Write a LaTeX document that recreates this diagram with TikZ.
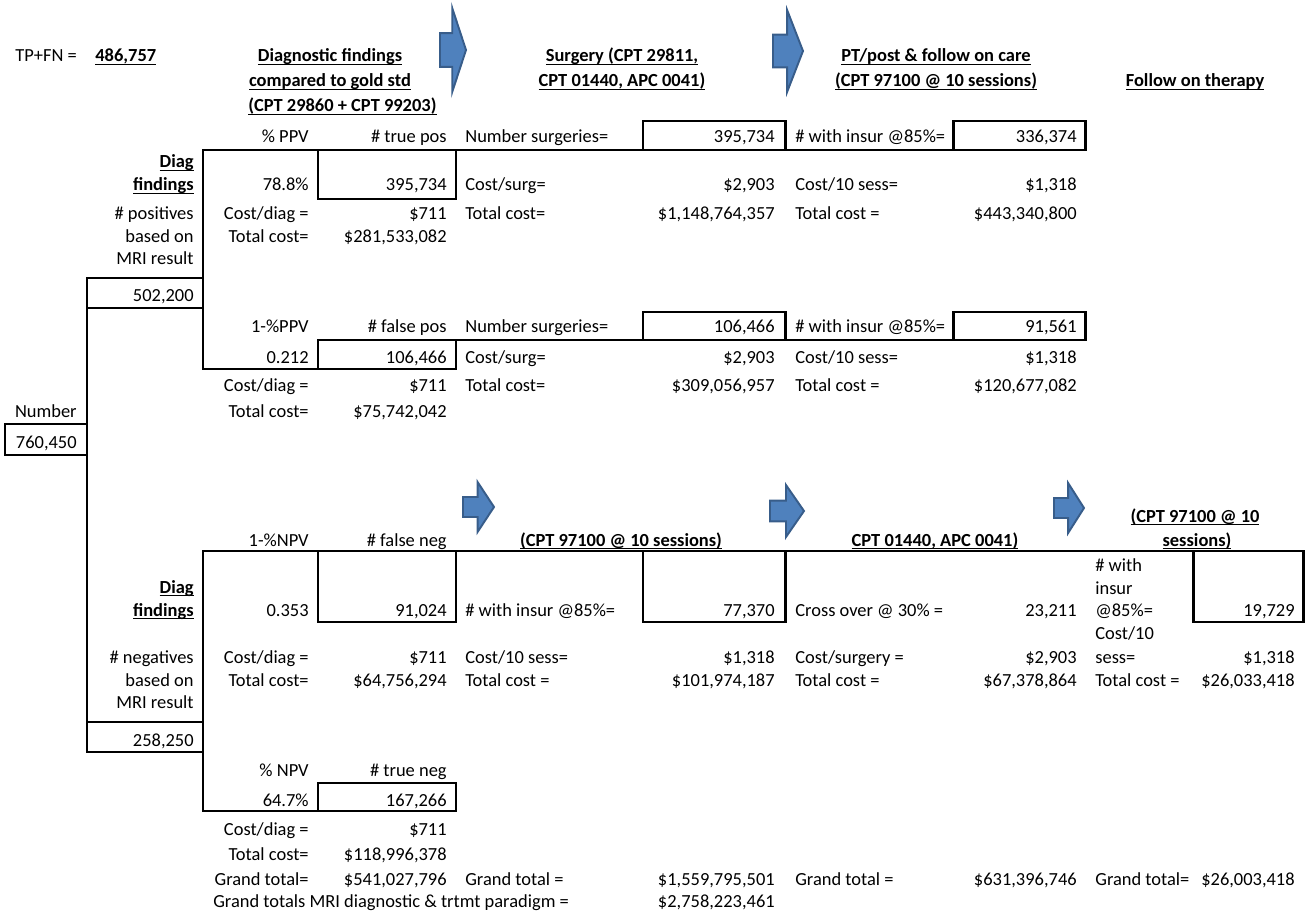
\documentclass[tikz,border=0pt]{standalone}
\usepackage{fontspec}
\setmainfont{Carlito}
\usepackage{tikz}
\usetikzlibrary{arrows.meta}
\definecolor{flowfill}{HTML}{4F81BD}
\definecolor{flowline}{HTML}{385D8A}
\tikzset{
  cell/.style={inner sep=0pt, font=\fontsize{10.5}{12.6}\selectfont},
  lcell/.style={cell, anchor=base west},
  rcell/.style={cell, anchor=base east},
  ccell/.style={cell, anchor=base},
  frame/.style={line width=1.7pt, line cap=rect},
  flow/.style={fill=flowfill, draw=flowline, line width=1.1pt, line join=miter}
}
\newcommand{\undl}[1]{\setbox0\hbox{\textbf{#1}}\rlap{\rule[-1.6pt]{\wd0}{0.7pt}}\box0}

\begin{document}
\begin{tikzpicture}[x=0.02cm,y=-0.02cm]
  \useasboundingbox (0,0) rectangle (1309,912);
  % Draw block arrows between stages
  \foreach \l/\t/\w/\h in {440/8/26/84, 773/10/30/82, 463/482/31/50, 770/485/34/52, 1054/483/30/50}
    \draw[flow] (\l,\t+0.3*\h) -- (\l+0.47*\w,\t+0.3*\h) -- (\l+0.47*\w,\t) -- (\l+\w,\t+0.5*\h)
      -- (\l+0.47*\w,\t+\h) -- (\l+0.47*\w,\t+0.7*\h) -- (\l,\t+0.7*\h) -- cycle;
  % Draw headers
  \node[lcell] (tpfn) at (15,62) {TP+FN =};
  \node[lcell] (tpfnval) at (95,62) {\undl{486,757}};
  \node[ccell] (diaghd1) at (330,62) {\undl{Diagnostic findings}};
  \node[ccell] (diaghd2) at (330,87) {\undl{compared to gold std}};
  \node[lcell] (diaghd3) at (248,112) {\undl{(CPT 29860 + CPT 99203)}};
  \node[ccell] (surghd1) at (622,62) {\undl{Surgery (CPT 29811,}};
  \node[ccell] (surghd2) at (622,87) {\undl{CPT 01440, APC 0041)}};
  \node[ccell] (pthd1) at (936,62) {\undl{PT/post \& follow on care}};
  \node[ccell] (pthd2) at (936,87) {\undl{(CPT 97100 @ 10 sessions)}};
  \node[ccell] (followhd) at (1195,87) {\undl{Follow on therapy}};
  \node[ccell] (ptlowhd) at (621,546) {\undl{(CPT 97100 @ 10 sessions)}};
  \node[ccell] (surglowhd) at (935,546) {\undl{CPT 01440, APC 0041)}};
  \node[ccell] (followlowhd1) at (1195,522) {\undl{(CPT 97100 @ 10}};
  \node[ccell] (followlowhd2) at (1197,546) {\undl{sessions)}};
  % Draw tree lines and value boxes
  \draw[frame] (5,424) rectangle (87,455);
  \draw[frame] (87,278) -- (87,752);
  \draw[frame] (87,278) rectangle (203,308);
  \draw[frame] (87,722) rectangle (203,752);
  \draw[frame] (456,369) -- (203,369) -- (203,150) -- (1085,150);
  \draw[frame] (318,150) rectangle (456,199);
  \draw[frame] (643,121) rectangle (785,150);
  \draw[frame] (953,121) rectangle (1085,150);
  \draw[frame] (318,340) rectangle (456,369);
  \draw[frame] (456,340) -- (1085,340);
  \draw[frame] (643,312) rectangle (785,340);
  \draw[frame] (953,312) rectangle (1085,340);
  \draw[frame] (456,811) -- (203,811) -- (203,551) -- (1303,551);
  \draw[frame] (318,551) rectangle (456,622);
  \draw[frame] (643,551) rectangle (785,622);
  \draw[frame] (1193,551) rectangle (1303,622);
  \draw[frame] (318,783) rectangle (456,811);
  % Root and branch labels
  \node[rcell] (numlbl) at (77,418) {Number};
  \node[rcell] (numval) at (77,448) {760,450};
  \node[rcell] (posdiag1) at (194,168) {\undl{Diag}};
  \node[rcell] (posdiag2) at (194,191) {\undl{findings}};
  \node[rcell] (negdiag1) at (194,593) {\undl{Diag}};
  \node[rcell] (negdiag2) at (194,616) {\undl{findings}};
  \foreach \y/\txt [count=\i] in {220/{\# positives}, 243/{based on}, 265/{MRI result}, 302/{502,200},
      663/{\# negatives}, 686/{based on}, 708/{MRI result}, 746/{258,250}}
    \node[rcell] (cola-\i) at (194,\y) {\txt};
  % Diagnostic findings columns
  \foreach \y/\lab/\val [count=\i] in {143/{\% PPV}/{\# true pos}, 191/{78.8\%}/{395,734},
      220/{Cost/diag =}/{\$711}, 243/{Total cost=}/{\$281,533,082},
      333/{1-\%PPV}/{\# false pos}, 363/{0.212}/{106,466},
      392/{Cost/diag =}/{\$711}, 418/{Total cost=}/{\$75,742,042},
      546/{1-\%NPV}/{\# false neg}, 616/{0.353}/{91,024},
      663/{Cost/diag =}/{\$711}, 686/{Total cost=}/{\$64,756,294},
      776/{\% NPV}/{\# true neg}, 806/{64.7\%}/{167,266},
      835/{Cost/diag =}/{\$711}, 860/{Total cost=}/{\$118,996,378},
      885/{Grand total=}/{\$541,027,796}} {
    \node[rcell] (colb-\i) at (309,\y) {\lab};
    \node[rcell] (colc-\i) at (447,\y) {\val}; }
  % Surgery / therapy columns
  \foreach \y/\lab/\val [count=\i] in {143/{Number surgeries=}/{395,734}, 191/{Cost/surg=}/{\$2,903},
      220/{Total cost=}/{\$1,148,764,357}, 333/{Number surgeries=}/{106,466},
      363/{Cost/surg=}/{\$2,903}, 392/{Total cost=}/{\$309,056,957},
      616/{\# with insur @85\%=}/{77,370}, 663/{Cost/10 sess=}/{\$1,318},
      686/{Total cost =}/{\$101,974,187}, 885/{Grand total =}/{\$1,559,795,501}} {
    \node[lcell] (cold-\i) at (465,\y) {\lab};
    \node[rcell] (cole-\i) at (775,\y) {\val}; }
  \foreach \y/\lab/\val [count=\i] in {143/{\# with insur @85\%=}/{336,374}, 191/{Cost/10 sess=}/{\$1,318},
      220/{Total cost =}/{\$443,340,800}, 333/{\# with insur @85\%=}/{91,561},
      363/{Cost/10 sess=}/{\$1,318}, 392/{Total cost =}/{\$120,677,082},
      616/{Cross over @ 30\% =}/{23,211}, 663/{Cost/surgery =}/{\$2,903},
      686/{Total cost =}/{\$67,378,864}, 885/{Grand total =}/{\$631,396,746}} {
    \node[lcell] (colf-\i) at (795,\y) {\lab};
    \node[rcell] (colg-\i) at (1077,\y) {\val}; }
  % Follow on therapy column
  \foreach \y/\lab [count=\i] in {571/{\# with}, 594/{insur}, 616/{@85\%=}, 639/{Cost/10}, 663/{sess=},
      686/{Total cost =}, 885/{Grand total=}}
    \node[lcell] (colh-\i) at (1095,\y) {\lab};
  \foreach \y/\val [count=\i] in {616/{19,729}, 663/{\$1,318}, 686/{\$26,033,418}, 885/{\$26,003,418}}
    \node[rcell] (coli-\i) at (1295,\y) {\val};
  % Grand totals
  \node[lcell] (grandlbl) at (213,907) {Grand totals MRI diagnostic \& trtmt paradigm =};
  \node[rcell] (grandval) at (775,907) {\$2,758,223,461};
\end{tikzpicture}
\end{document}
